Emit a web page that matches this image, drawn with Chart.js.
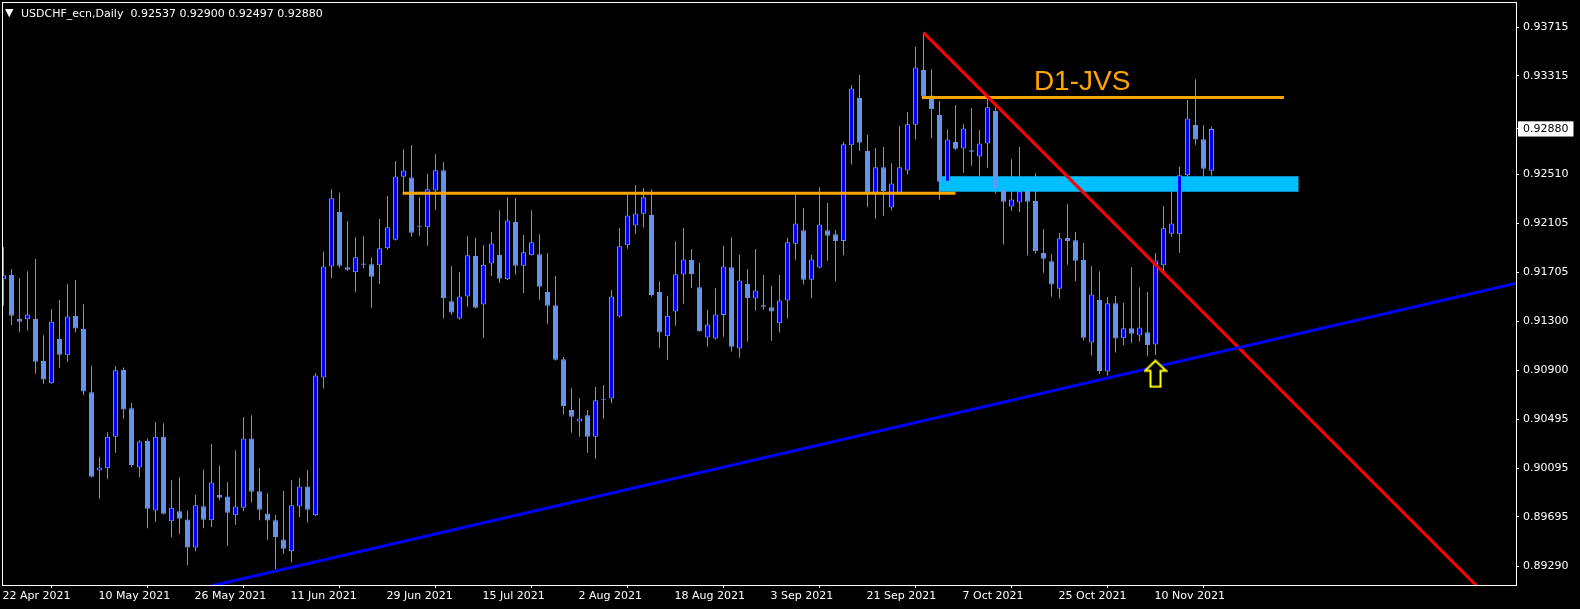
<!DOCTYPE html>
<html>
<head>
<meta charset="utf-8">
<title>USDCHF_ecn,Daily</title>
<script src="https://cdn.jsdelivr.net/npm/chart.js@4.4.1/dist/chart.umd.min.js"></script>
<style>
    html, body { margin: 0; padding: 0; background: #000; }
    #wrap { width: 1580px; height: 609px; }
</style>
</head>
<body>
<div id="wrap"><canvas id="chart" width="1580" height="609"></canvas></div>
<script>
// ── Data (daily bars, index 0 = 22 Apr 2021) ────────────────────

const symbolTitle = 'USDCHF_ecn,Daily';

const openP = [
    0.91645, 0.91681, 0.91320, 0.91317, 0.91320, 0.90974, 0.90792, 0.91156, 0.91023, 0.91344,
    0.91238, 0.90719, 0.90075, 0.90094, 0.90354, 0.90901, 0.90588, 0.90100, 0.90318, 0.89747,
    0.90354, 0.89659, 0.89741, 0.89674, 0.89443, 0.89783, 0.89668, 0.89875, 0.89862, 0.89708,
    0.89771, 0.90339, 0.89905, 0.89723, 0.89668, 0.89510, 0.89413, 0.89780, 0.89944, 0.89708,
    0.90840, 0.91751, 0.92198, 0.91745, 0.91703, 0.91776, 0.91769, 0.91760, 0.91900, 0.91970,
    0.92487, 0.92481, 0.92085, 0.92073, 0.92374, 0.92541, 0.91465, 0.91323, 0.91505, 0.91836,
    0.91439, 0.91776, 0.91846, 0.91645, 0.92116, 0.91757, 0.91843, 0.91852, 0.91542, 0.91432,
    0.90989, 0.90573, 0.90478, 0.90530, 0.90354, 0.90661, 0.90667, 0.91341, 0.91925, 0.92088,
    0.92183, 0.92174, 0.91542, 0.91178, 0.91381, 0.91684, 0.91803, 0.91581, 0.91168, 0.91159,
    0.91353, 0.91745, 0.91077, 0.91606, 0.91487, 0.91432, 0.91417, 0.91284, 0.91472, 0.91937,
    0.92049, 0.91642, 0.91742, 0.92049, 0.92016, 0.91961, 0.92745, 0.93133, 0.92699, 0.92356,
    0.92565, 0.92234, 0.92356, 0.92538, 0.92915, 0.93364, 0.93154, 0.92994, 0.92447, 0.92772,
    0.92720, 0.92705, 0.92653, 0.92760, 0.93027, 0.92384, 0.92243, 0.92277, 0.92371, 0.92289,
    0.91861, 0.91794, 0.91569, 0.91985, 0.91967, 0.91803, 0.91126, 0.91475, 0.90889, 0.91448,
    0.91162, 0.91244, 0.91184, 0.91211, 0.91111, 0.91760, 0.92019, 0.92016, 0.92499, 0.92912,
    0.92796, 0.92537,
];

const highP = [
    0.91909, 0.91730, 0.91654, 0.91712, 0.91812, 0.91187, 0.91402, 0.91475, 0.91605, 0.91639,
    0.91441, 0.90935, 0.90188, 0.90390, 0.90932, 0.90922, 0.90631, 0.90324, 0.90339, 0.90472,
    0.90463, 0.89996, 0.90020, 0.89747, 0.89875, 0.90082, 0.90294, 0.90118, 0.89981, 0.90242,
    0.90515, 0.90530, 0.90097, 0.89890, 0.89711, 0.89908, 0.89996, 0.90014, 0.90078, 0.90877,
    0.91873, 0.92384, 0.92359, 0.92125, 0.91991, 0.92000, 0.91827, 0.92140, 0.92329, 0.92617,
    0.92714, 0.92748, 0.92319, 0.92511, 0.92675, 0.92608, 0.91754, 0.91706, 0.92000, 0.91985,
    0.91928, 0.92034, 0.92213, 0.92319, 0.92313, 0.92010, 0.92213, 0.92016, 0.91861, 0.91672,
    0.91007, 0.90752, 0.90670, 0.90573, 0.90761, 0.90777, 0.91557, 0.92067, 0.92338, 0.92420,
    0.92395, 0.92384, 0.91630, 0.91508, 0.91958, 0.92067, 0.91894, 0.91779, 0.91393, 0.91572,
    0.91919, 0.91991, 0.91846, 0.91730, 0.91894, 0.91681, 0.91590, 0.91681, 0.91985, 0.92338,
    0.92231, 0.91846, 0.92402, 0.92271, 0.92049, 0.92772, 0.93240, 0.93322, 0.92830, 0.92723,
    0.92732, 0.92599, 0.92902, 0.93018, 0.93552, 0.93671, 0.93370, 0.93109, 0.92878, 0.93076,
    0.92918, 0.93051, 0.92872, 0.93133, 0.93057, 0.92429, 0.92632, 0.92732, 0.92384, 0.92517,
    0.92058, 0.91852, 0.92025, 0.92262, 0.92034, 0.91943, 0.91754, 0.91712, 0.91499, 0.91508,
    0.91451, 0.91745, 0.91581, 0.91542, 0.91861, 0.92246, 0.92374, 0.92568, 0.93118, 0.93288,
    0.92912, 0.92900,
];

const lowP = [
    0.91429, 0.91271, 0.91211, 0.91226, 0.90871, 0.90789, 0.90789, 0.90920, 0.90968, 0.91211,
    0.90694, 0.90020, 0.89844, 0.90005, 0.90221, 0.90500, 0.90103, 0.90020, 0.89601, 0.89656,
    0.89714, 0.89528, 0.89555, 0.89298, 0.89413, 0.89601, 0.89613, 0.89832, 0.89458, 0.89631,
    0.89741, 0.89814, 0.89668, 0.89507, 0.89267, 0.89392, 0.89322, 0.89695, 0.89650, 0.89700,
    0.90749, 0.91654, 0.91739, 0.91715, 0.91539, 0.91736, 0.91411, 0.91608, 0.91888, 0.91965,
    0.92359, 0.91994, 0.92003, 0.91922, 0.92216, 0.91323, 0.91353, 0.91314, 0.91420, 0.91405,
    0.91165, 0.91672, 0.91615, 0.91640, 0.91685, 0.91533, 0.91840, 0.91478, 0.91281, 0.90980,
    0.90533, 0.90385, 0.90354, 0.90221, 0.90173, 0.90500, 0.90628, 0.91335, 0.91897, 0.92019,
    0.92070, 0.91502, 0.91083, 0.90986, 0.91265, 0.91445, 0.91575, 0.91214, 0.91092, 0.91150,
    0.91174, 0.91050, 0.91001, 0.91132, 0.91387, 0.91396, 0.91141, 0.91208, 0.91323, 0.91806,
    0.91602, 0.91493, 0.91737, 0.91797, 0.91627, 0.91840, 0.92587, 0.92699, 0.92237, 0.92143,
    0.92167, 0.92213, 0.92350, 0.92505, 0.92793, 0.93142, 0.92805, 0.92298, 0.92374, 0.92708,
    0.92520, 0.92577, 0.92492, 0.92562, 0.92350, 0.91931, 0.92207, 0.92198, 0.91840, 0.91855,
    0.91700, 0.91502, 0.91487, 0.91766, 0.91630, 0.91144, 0.91020, 0.90871, 0.90855, 0.91044,
    0.91107, 0.91120, 0.91135, 0.91013, 0.91023, 0.91706, 0.91994, 0.91864, 0.92365, 0.92751,
    0.92492, 0.92497,
];

const closeP = [
    0.91678, 0.91347, 0.91298, 0.91356, 0.90968, 0.90822, 0.91298, 0.91026, 0.91341, 0.91241,
    0.90725, 0.90024, 0.90100, 0.90354, 0.90898, 0.90576, 0.90121, 0.90315, 0.89762, 0.90354,
    0.89720, 0.89771, 0.89680, 0.89443, 0.89790, 0.89671, 0.89978, 0.89853, 0.89729, 0.89780,
    0.90339, 0.89902, 0.89753, 0.89665, 0.89531, 0.89434, 0.89790, 0.89944, 0.89753, 0.90855,
    0.91751, 0.92311, 0.91757, 0.91724, 0.91827, 0.91766, 0.91666, 0.91900, 0.92073, 0.92490,
    0.92538, 0.92027, 0.92076, 0.92384, 0.92541, 0.91490, 0.91372, 0.91505, 0.91843, 0.91411,
    0.91766, 0.91940, 0.91651, 0.92128, 0.91757, 0.91867, 0.91949, 0.91584, 0.91429, 0.90986,
    0.90606, 0.90518, 0.90503, 0.90354, 0.90652, 0.90652, 0.91505, 0.91916, 0.92170, 0.92186,
    0.92319, 0.91517, 0.91208, 0.91347, 0.91688, 0.91809, 0.91688, 0.91220, 0.91275, 0.91356,
    0.91751, 0.91092, 0.91636, 0.91493, 0.91554, 0.91420, 0.91381, 0.91472, 0.91949, 0.92104,
    0.91642, 0.91809, 0.92095, 0.92003, 0.91961, 0.92754, 0.93212, 0.92766, 0.92356, 0.92565,
    0.92371, 0.92432, 0.92565, 0.92918, 0.93385, 0.93148, 0.93042, 0.92447, 0.92793, 0.92717,
    0.92884, 0.92693, 0.92760, 0.93057, 0.92389, 0.92283, 0.92301, 0.92368, 0.92283, 0.91876,
    0.91815, 0.91602, 0.91982, 0.91961, 0.91797, 0.91165, 0.91521, 0.90892, 0.91448, 0.91159,
    0.91244, 0.91199, 0.91250, 0.91107, 0.91800, 0.92064, 0.92104, 0.92499, 0.92966, 0.92793,
    0.92553, 0.92880,
];

// time axis labels, one every 12 bars
const dateIdx = [0, 12, 24, 36, 48, 60, 72, 84, 96, 108, 120, 132, 144];
const dateLabels = [
    '22 Apr 2021', '10 May 2021', '26 May 2021', '11 Jun 2021', '29 Jun 2021',
    '15 Jul 2021', '2 Aug 2021', '18 Aug 2021', '3 Sep 2021', '21 Sep 2021',
    '7 Oct 2021', '25 Oct 2021', '10 Nov 2021',
];

// price axis labels
const priceTicks = [
    0.93715, 0.93315, 0.92510, 0.92105, 0.91705, 0.91300,
    0.90900, 0.90495, 0.90095, 0.89695, 0.89290,
];

// ── Drawn objects (bar index / price) ───────────────────────────

const lowerLevelBars = [49.9, 119.0];
const lowerLevelPrice = 0.92353;
const upperLevelBars = [114.8, 160.05];
const upperLevelPrice = 0.93139;
const zoneBars = [116.9, 161.9];
const zonePrices = [0.92365, 0.92492];
const redTrendBars = [115, 190];
const redTrendPrices = [0.93671, 0.88744];
const blueTrendBars = [20, 190];
const blueTrendPrices = [0.89037, 0.91628];
const arrowBar = 144;
const arrowPrice = 0.90870;
const noteText = 'D1-JVS';
const noteBar = 128.8;
const notePrice = 0.93199;

// ── Colours ─────────────────────────────────────────────────────

const BULL = '#0000ff';
const BEAR = '#6495ed';
const ORANGE = '#ffa500';
const ZONE = '#00bfff';
const AXIS_FONT = { family: "'DejaVu Sans', sans-serif", size: 11 };

const lastIdx = closeP.length - 1;
const lastClose = closeP[lastIdx];

// ── Chart ───────────────────────────────────────────────────────

function makeArrow() {
    const c = document.createElement('canvas');
    c.width = 24;
    c.height = 29;
    const g = c.getContext('2d');
    g.beginPath();
    g.moveTo(12, 1.5);
    g.lineTo(22.5, 11.5);
    g.lineTo(17, 11.5);
    g.lineTo(17, 27.5);
    g.lineTo(7, 27.5);
    g.lineTo(7, 11.5);
    g.lineTo(1.5, 11.5);
    g.closePath();
    g.fillStyle = '#000';
    g.fill();
    g.strokeStyle = '#ffff00';
    g.lineWidth = 2;
    g.stroke();
    return c;
}

const linePts = (xs, ys) => xs.map((x, i) => ({ x, y: Array.isArray(ys) ? ys[i] : ys }));

const isBull = closeP.map((c, i) => c >= openP[i]);
const wickData = lowP.map((l, i) => ({ x: i, y: [l, highP[i]] }));
const bodyData = openP.map((o, i) => ({ x: i, y: [o, closeP[i]] }));

// no extra label overflow padding: the plot box is fixed like the terminal's
function fixScale(scale, size) {
    if (scale.isHorizontal()) scale.height = size;
    else scale.width = size;
    scale.paddingLeft = 0;
    scale.paddingRight = 0;
    scale.paddingTop = 0;
    scale.paddingBottom = 0;
}

const mt4Overlay = {
    id: 'mt4Overlay',
    afterDraw(chart) {
        const { ctx, chartArea: a, scales } = chart;
        ctx.save();
        // frame
        ctx.strokeStyle = '#fff';
        ctx.lineWidth = 1;
        ctx.strokeRect(a.left + 0.5, a.top + 0.5, a.right - a.left, a.bottom - a.top);

        // note text
        ctx.fillStyle = ORANGE;
        ctx.font = "28px 'Liberation Sans', Arial, sans-serif";
        ctx.textBaseline = 'alphabetic';
        ctx.textAlign = 'left';
        ctx.fillText(noteText, scales.x.getPixelForValue(noteBar), scales.y.getPixelForValue(notePrice));

        // header
        ctx.fillStyle = '#fff';
        ctx.font = "11px 'DejaVu Sans', sans-serif";
        ctx.fillText('\u25BC', 5, 16);
        const ohlc = [openP[lastIdx], highP[lastIdx], lowP[lastIdx], closeP[lastIdx]]
            .map(v => v.toFixed(5)).join(' ');
        ctx.fillText(`${symbolTitle}  ${ohlc}`, 21, 16.7);
        ctx.restore();
    }
};

new Chart(document.getElementById('chart'), {
    type: 'bar',
    data: {
        datasets: [
            {
                type: 'line',
                data: linePts(zoneBars, zonePrices[1]),
                borderWidth: 0,
                borderColor: 'rgba(0,0,0,0)',
                backgroundColor: ZONE,
                fill: { value: zonePrices[0] },
                pointRadius: 0,
                order: 10,
            },
            {
                data: wickData,
                backgroundColor: BEAR,
                borderWidth: 0,
                barThickness: 1,
                grouped: false,
                inflateAmount: 0,
                order: 4,
            },
            {
                data: bodyData,
                backgroundColor: isBull.map(b => b ? BULL : BEAR),
                borderColor: BEAR,
                borderWidth: 1,
                borderSkipped: false,
                barThickness: 5,
                grouped: false,
                inflateAmount: 0,
                order: 3,
            },
            {
                type: 'line',
                data: linePts(lowerLevelBars, lowerLevelPrice),
                borderColor: ORANGE,
                borderWidth: 3,
                pointRadius: 0,
                order: 2,
            },
            {
                type: 'line',
                data: linePts(upperLevelBars, upperLevelPrice),
                borderColor: ORANGE,
                borderWidth: 3,
                pointRadius: 0,
                order: 2,
            },
            {
                type: 'line',
                data: linePts(blueTrendBars, blueTrendPrices),
                borderColor: BULL,
                borderWidth: 3,
                pointRadius: 0,
                order: 1,
            },
            {
                type: 'line',
                data: linePts(redTrendBars, redTrendPrices),
                borderColor: '#ff0000',
                borderWidth: 3,
                pointRadius: 0,
                order: 1,
            },
            {
                type: 'line',
                data: [{ x: arrowBar, y: arrowPrice }],
                showLine: false,
                pointStyle: makeArrow(),
                pointRadius: 10,
                order: 0,
            },
        ],
    },
    options: {
        responsive: false,
        animation: false,
        devicePixelRatio: 1,
        layout: { autoPadding: false, padding: { left: 2, top: 2, right: 0, bottom: 0 } },
        plugins: {
            legend: { display: false },
            tooltip: { enabled: false },
        },
        scales: {
            x: {
                type: 'linear',
                offset: false,
                min: -0.1875,
                max: 189.0625,
                afterBuildTicks: (scale) => { scale.ticks = dateIdx.map(v => ({ value: v })); },
                afterFit: (scale) => fixScale(scale, 24),
                grid: { drawOnChartArea: false, drawTicks: true, tickLength: 3, color: '#fff' },
                border: { display: false },
                ticks: {
                    autoSkip: false,
                    maxRotation: 0,
                    minRotation: 0,
                    align: 'start',
                    labelOffset: -1,
                    padding: 2,
                    color: '#fff',
                    font: AXIS_FONT,
                    callback: (v) => dateLabels[dateIdx.indexOf(v)] ?? '',
                },
            },
            y: {
                type: 'linear',
                position: 'right',
                min: 0.89136,
                max: 0.93922,
                beginAtZero: false,
                afterBuildTicks: (scale) => {
                    scale.ticks = [...priceTicks, lastClose].map(v => ({ value: v }));
                },
                afterFit: (scale) => fixScale(scale, 64),
                grid: { drawOnChartArea: false, drawTicks: true, tickLength: 3, color: '#fff' },
                border: { display: false },
                ticks: {
                    autoSkip: false,
                    padding: 4,
                    font: AXIS_FONT,
                    color: (c) => c.tick && c.tick.value === lastClose ? '#000' : '#fff',
                    showLabelBackdrop: (c) => !!(c.tick && c.tick.value === lastClose),
                    backdropColor: '#fff',
                    backdropPadding: { top: 1, bottom: 1, left: 5, right: 5 },
                    callback: (v) => v.toFixed(5),
                },
            },
        },
    },
    plugins: [mt4Overlay],
});
</script>
</body>
</html>
